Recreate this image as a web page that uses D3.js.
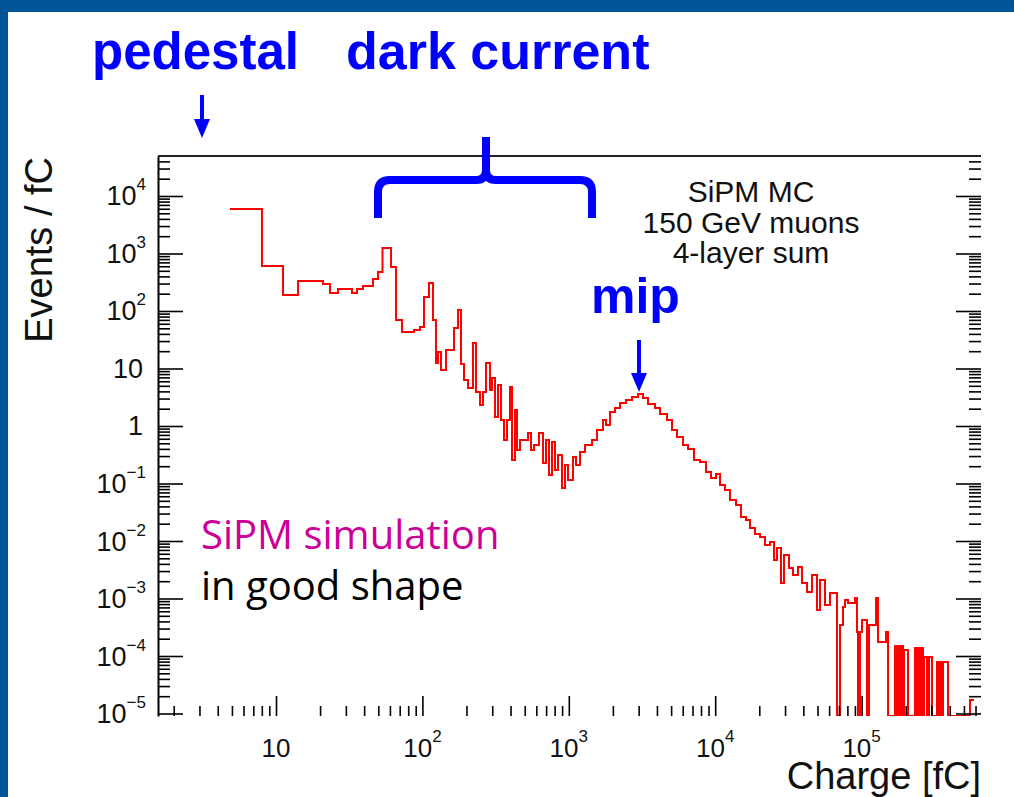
<!DOCTYPE html>
<html><head><meta charset="utf-8">
<script src="https://cdn.jsdelivr.net/npm/d3@7"></script>
<style>html,body{margin:0;padding:0;background:#fff;} svg{display:block;}</style>
</head><body><svg id="c" width="1014" height="797"></svg>
<script>
// ---------------- data ----------------
// histogram bin edges (fC) and contents (events / fC); 0 = empty bin
const binEdges = [
  4.85, 8.02, 11.16, 14.14, 20.94, 23.38, 26.51, 33.05, 35.75, 39.29,
  45.97, 49.74, 53.40, 61.03, 66.02, 72.56, 87.62, 96.30, 102.5, 110.9,
  118.1, 123.8, 127.8, 134.0, 145.0, 164.4, 175.1, 183.5, 192.4, 204.9,
  221.6, 232.3, 247.5, 259.4, 271.9, 289.5, 298.8, 313.2, 328.4, 344.3,
  360.9, 378.4, 396.6, 409.3, 429.1, 442.9, 464.2, 526.4, 551.9, 578.5,
  625.7, 666.5, 698.8, 732.5, 767.9, 805.0, 843.9, 898.7, 941.9, 987.4,
  1068, 1120, 1193, 1290, 1440, 1558, 1712, 1795, 1911, 2068,
  2237, 2459, 2702, 2970, 3213, 3475, 3880, 4198, 4686, 5069,
  5484, 6027, 6520, 7166, 7875, 8656, 9361, 10127, 10784, 11665,
  12619, 13873, 15008, 16234, 17286, 18700, 20230, 21884, 23673, 25208,
  26425, 28142, 29500, 31916, 33985, 36768, 39152, 42364, 45831, 49595,
  51971, 56234, 60842, 67920, 71209, 74645, 77030, 80750, 90140, 93030,
  94500, 97520, 100630, 108860, 112330, 125460, 129420, 146840, 151530, 169150,
  174550, 177310, 182980, 185870, 191800, 194840, 201070, 207480, 231600, 239000,
  242800, 250600, 254500, 262700, 266900, 279700, 288700, 293300, 302700, 327300,
  337800, 343100, 354100, 359700, 389300, 550100, 586000
];
const binValues = [
  5940, 606, 190, 332, 295, 206, 241, 206, 241, 272,
  360, 477, 1250, 582, 69.7, 43.1, 46.7, 52.7, 175, 307,
  69.7, 12.5, 19.4, 9.42, 21.0, 50.6, 104, 12.0, 6.31, 4.58,
  27.8, 3.90, 2.32, 3.90, 12.5, 4.23, 6.84, 1.43, 5.17, 1.27,
  0.571, 1.27, 4.77, 0.256, 1.90, 0.383, 0.571, 0.756, 0.383, 0.467,
  0.756, 0.227, 0.571, 0.141, 0.527, 0.172, 0.313, 0.0835, 0.210, 0.115,
  0.289, 0.210, 0.353, 0.467, 0.571, 0.852, 1.27, 1.04, 1.75, 2.06,
  2.51, 2.83, 3.19, 3.60, 3.07, 2.41, 2.06, 1.62, 1.27, 0.852,
  0.644, 0.467, 0.398, 0.256, 0.237, 0.158, 0.125, 0.146, 0.0942, 0.0771,
  0.0516, 0.0423, 0.0261, 0.0232, 0.0168, 0.0132, 0.0117, 0.00852, 0.00961, 0.00467,
  0.00755, 0.00186, 0.00571, 0.00339, 0.00256, 0.00353, 0.00186, 0.00130, 0.00256, 0.000631,
  0.00210, 0.000771, 0.00125, 0, 0.000346, 0.000711, 0.000942, 0.000835, 0.00102, 0.000261,
  0, 0.000261, 0.000423, 0, 0.000346, 0.00102, 0.000175, 0.000261, 0, 0.000149,
  0, 0.000149, 0, 0.000149, 0, 0.000127, 0.000127, 0, 0.000138, 0,
  0.000138, 0, 0.000138, 0, 9.61e-5, 0, 9.61e-5, 9.61e-5, 0, 7.87e-5,
  0, 7.87e-5, 0, 7.87e-5, 0, 1.72e-5
];
const xDomain = [1.563, 654000];
const yDomain = [9.05e-6, 4.96e4];
const xTickExponents = [1, 2, 3, 4, 5];
const yTickExponents = [-5, -4, -3, -2, -1, 0, 1, 2, 3, 4];
const xTitle = "Charge [fC]";
const yTitle = "Events / fC";
const infoLines = ["SiPM MC", "150 GeV muons", "4-layer sum"];
const pedestalLabel = "pedestal";
const darkLabel = "dark current";
const mipLabel = "mip";
const noteLines = ["SiPM simulation", "in good shape"];

// ---------------- layout ----------------
const svg = d3.select("#c");
const M = {left: 158, right: 981, top: 156, bottom: 716};
const x = d3.scaleLog().domain(xDomain).range([M.left, M.right]);
const y = d3.scaleLog().domain(yDomain).range([M.bottom, M.top]);
const NUM_FONT = "'Liberation Sans', Arial, Helvetica, sans-serif";
const BLUE = "#0000ff";
const FRAME = "#005696";

svg.append("rect").attr("width", 1014).attr("height", 797).attr("fill", "#fff");
svg.append("rect").attr("x", 0).attr("y", 0).attr("width", 1014).attr("height", 12).attr("fill", FRAME);
svg.append("rect").attr("x", 0).attr("y", 0).attr("width", 8).attr("height", 797).attr("fill", FRAME);

// minor tick values
function minors(dom) {
  const out = [];
  for (let e = -7; e <= 7; e++) for (let k = 2; k <= 9; k++) {
    const v = k * Math.pow(10, e);
    if (v > dom[0] && v < dom[1]) out.push(v);
  }
  return out;
}
const yMajors = yTickExponents.map(e => Math.pow(10, e));
const xMajors = xTickExponents.map(e => Math.pow(10, e));

// ---------------- histogram ----------------
svg.append("clipPath").attr("id", "clip").append("rect")
  .attr("x", M.left).attr("y", M.top).attr("width", M.right - M.left).attr("height", M.bottom - M.top);
const yv = v => (v > yDomain[0] ? y(v) : M.bottom);
let d = `M${x(binEdges[0])},${yv(binValues[0])}H${x(binEdges[1])}`;
for (let i = 1; i < binValues.length; i++) {
  d += `V${yv(binValues[i])}H${x(binEdges[i + 1])}`;
}
svg.append("path").attr("d", d).attr("fill", "none").attr("stroke", "#ff0000")
  .attr("stroke-width", 2).attr("clip-path", "url(#clip)");

// ---------------- axes ----------------
function styleAxis(g) {
  g.selectAll(".tick line").attr("stroke", "#000").attr("stroke-width", 1.6);
  g.selectAll(".tick text").remove();
}
// left
svg.append("g").attr("transform", `translate(${M.left},0)`)
  .call(d3.axisLeft(y).tickValues(yMajors).tickSizeInner(-25).tickSizeOuter(0).tickFormat(""))
  .call(styleAxis).call(g => g.select(".domain").attr("stroke", "#000").attr("stroke-width", 2));
svg.append("g").attr("transform", `translate(${M.left},0)`)
  .call(d3.axisLeft(y).tickValues(minors(yDomain)).tickSizeInner(-12).tickSizeOuter(0).tickFormat(""))
  .call(styleAxis).call(g => g.select(".domain").remove());
// right
svg.append("g").attr("transform", `translate(${M.right},0)`)
  .call(d3.axisRight(y).tickValues(yMajors).tickSizeInner(-25).tickSizeOuter(0).tickFormat(""))
  .call(styleAxis).call(g => g.select(".domain").remove());
svg.append("g").attr("transform", `translate(${M.right},0)`)
  .call(d3.axisRight(y).tickValues(minors(yDomain)).tickSizeInner(-12).tickSizeOuter(0).tickFormat(""))
  .call(styleAxis).call(g => g.select(".domain").remove());
// bottom
svg.append("g").attr("transform", `translate(0,${M.bottom})`)
  .call(d3.axisBottom(x).tickValues(xMajors).tickSizeInner(-20).tickSizeOuter(0).tickFormat(""))
  .call(styleAxis).call(g => g.select(".domain").remove());
svg.append("g").attr("transform", `translate(0,${M.bottom})`)
  .call(d3.axisBottom(x).tickValues(minors(xDomain)).tickSizeInner(-10).tickSizeOuter(0).tickFormat(""))
  .call(styleAxis).call(g => g.select(".domain").remove());
// top frame line
svg.append("line").attr("x1", M.left).attr("x2", M.right).attr("y1", M.top).attr("y2", M.top)
  .attr("stroke", "#222").attr("stroke-width", 2);

// tick labels (10^n)
function powLabel(sel, e) {
  if (e === 0) { sel.text("1"); return; }
  if (e === 1) { sel.text("10"); return; }
  sel.append("tspan").text("10");
  sel.append("tspan").attr("font-size", 17).attr("dy", -15).text(e < 0 ? "\u2212" + (-e) : String(e));
}
yTickExponents.forEach(e => {
  const t = svg.append("text").attr("x", (e === 0 || e === 1) ? 143 : 146)
    .attr("y", y(Math.pow(10, e)) + 9.5).attr("text-anchor", "end")
    .attr("font-family", NUM_FONT).attr("font-size", 27).attr("fill", "#111");
  powLabel(t, e);
});
xTickExponents.forEach(e => {
  const t = svg.append("text").attr("x", x(Math.pow(10, e))).attr("y", 757)
    .attr("text-anchor", "middle").attr("font-family", NUM_FONT).attr("font-size", 26).attr("fill", "#111");
  powLabel(t, e);
});

// axis titles
svg.append("text").attr("x", M.right).attr("y", 789).attr("text-anchor", "end")
  .attr("font-family", NUM_FONT).attr("font-size", 38).attr("fill", "#111").text(xTitle);
svg.append("text").attr("transform", "translate(52,157) rotate(-90)").attr("text-anchor", "end")
  .attr("font-family", NUM_FONT).attr("font-size", 38).attr("fill", "#111").text(yTitle);

// info box
infoLines.forEach((s, i) => {
  svg.append("text").attr("x", 751).attr("y", [202, 233, 263][i]).attr("text-anchor", "middle")
    .attr("font-family", NUM_FONT).attr("font-size", 30).attr("fill", "#111").text(s);
});

// ---------------- annotations ----------------
const BOLD = "'Liberation Sans', Arial, sans-serif";
svg.append("text").attr("x", 92).attr("y", 69).attr("font-family", BOLD).attr("font-weight", "bold")
  .attr("font-size", 51).attr("fill", BLUE).text(pedestalLabel);
svg.append("text").attr("x", 346).attr("y", 69).attr("font-family", BOLD).attr("font-weight", "bold")
  .attr("font-size", 52).attr("fill", BLUE).text(darkLabel);
svg.append("text").attr("x", 591).attr("y", 313).attr("font-family", BOLD).attr("font-weight", "bold")
  .attr("font-size", 50).attr("fill", BLUE).text(mipLabel);

function arrow(cx, y0, y1) {
  svg.append("line").attr("x1", cx).attr("x2", cx).attr("y1", y0).attr("y2", y1 - 16)
    .attr("stroke", BLUE).attr("stroke-width", 4);
  svg.append("path").attr("d", `M${cx - 8},${y1 - 19}L${cx + 8},${y1 - 19}L${cx},${y1}Z`).attr("fill", BLUE);
}
arrow(202, 95, 138);
arrow(639, 340, 392);

// brace over dark-current region
svg.append("path")
  .attr("d", "M378,218 L378,192 Q378,180 390,180 L476,180 Q486,180 486,170 L486,137 M486,170 Q486,180 496,180 L580,180 Q592,180 592,192 L592,218")
  .attr("fill", "none").attr("stroke", BLUE).attr("stroke-width", 8).attr("stroke-linejoin", "round");

// note
const NOTE_FONT = "'Open Sans', 'Noto Sans', sans-serif";
svg.append("text").attr("x", 201).attr("y", 549).attr("font-family", NOTE_FONT).attr("font-size", 40)
  .attr("fill", "#cc0099").text(noteLines[0]);
svg.append("text").attr("x", 201).attr("y", 600).attr("font-family", NOTE_FONT).attr("font-size", 40)
  .attr("fill", "#000").text(noteLines[1]);
</script></body></html>
